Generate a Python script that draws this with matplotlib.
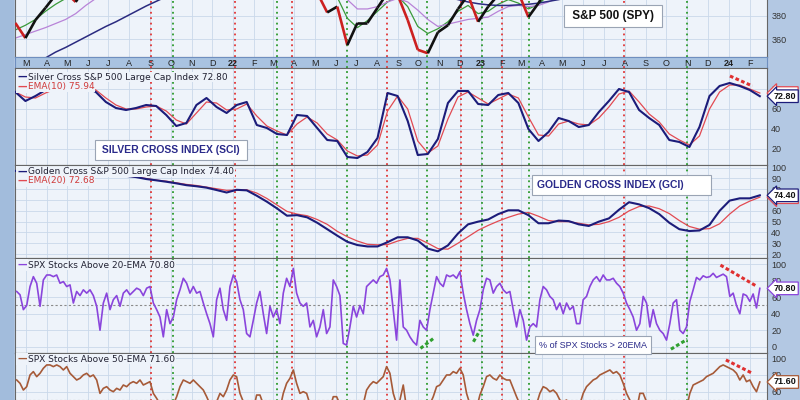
import numpy as np
import pandas as pd
import matplotlib
matplotlib.use("Agg")
import matplotlib.pyplot as plt
import matplotlib.dates as mdates
from matplotlib.collections import LineCollection
from matplotlib.patches import Rectangle

W, H = 800, 400

# ---- values ----
dates_d = pd.date_range("2021-02-14", "2024-02-16", periods=75)    # ~2 week steps
dates_w = pd.date_range("2021-02-16", "2024-02-16", periods=224)   # ~5 day steps

spy_close = [374, 361, 376.5, 387, 398, 400, 392, 405, 410, 415, 422, 428, 430, 435, 432,
             425, 428, 445, 455, 450, 455, 460, 460, 440, 425, 420, 410, 435, 440, 420,
             400, 383, 388, 355, 374, 374, 387, 400, 398, 376.5, 351, 348, 366, 372, 386,
             398, 375, 388, 398, 405, 400, 379, 391, 405, 410, 420, 430, 435, 440, 448,
             455, 445, 440, 430, 425, 415, 410, 430, 445, 455, 470, 470, 480, 490, 500]
spy_ema20 = [368, 372, 377, 384, 390, 395, 398, 402, 407, 412, 418, 424, 428, 432, 432,
             428, 430, 440, 450, 452, 455, 458, 458, 448, 432, 422, 415, 428, 435, 425,
             405, 396, 396, 378, 370, 376, 384, 392, 397, 388, 371, 365, 369, 375, 384,
             389, 382, 384, 390, 394, 391, 386, 390, 398, 405, 413, 422, 430, 436, 443,
             450, 447, 442, 435, 428, 418, 413, 423, 438, 450, 462, 467, 475, 484, 493]
spy_ema50 = [361, 364, 367, 370, 373.5, 377, 382, 389, 395, 399, 403, 407, 412, 416, 420,
             423, 425, 428, 433, 438, 442, 446, 450, 450, 445, 440, 433, 431, 432, 428,
             420, 410, 402, 394, 386, 386, 388, 392, 395, 392, 385, 377, 371, 373, 375,
             377, 378, 379, 384, 388, 389, 388, 389, 392, 396, 401, 408, 415, 422, 430,
             437, 440, 440, 437, 432, 426, 420, 420, 427, 437, 448, 456, 463, 471, 479]
spy_sma200 = [330, 334, 339, 344, 349, 353, 357.5, 362, 366.5, 371, 375, 379.5, 384, 388.5, 392.5,
              396.5, 400.5, 405, 409, 413, 417, 421, 424, 427, 429, 430, 431, 432, 433, 433,
              432, 430, 428, 425, 422, 420, 418, 416, 414, 411, 408, 405, 402, 396, 394,
              392, 390.5, 389.5, 389, 389, 389.5, 390, 391, 392.5, 394, 396, 399, 401, 403, 406,
              409, 412, 415, 418, 420, 421, 422, 424, 426, 429, 433, 437, 441, 446, 450]

sci = [77, 68, 73, 79, 81, 82, 83, 82, 77, 67, 61, 59, 61, 64, 63,
       54, 43, 46, 64, 71, 62, 56, 64, 67, 44, 41, 35, 34, 54, 53,
       41, 29, 28, 12, 11, 17, 31, 76, 73, 48, 14, 15, 30, 66, 78,
       78, 65, 64, 74, 76, 66, 40, 28, 37, 51, 48, 42, 44, 57, 68,
       80, 77, 59, 51, 44, 29, 27, 22, 42, 73, 83, 86, 83, 79, 72.80]
sci_ema10 = [77, 72, 71, 76, 80, 82, 82, 82, 79, 71, 64, 60, 60, 62, 63,
             58, 49, 45, 56, 67, 66, 59, 60, 65, 53, 43, 38, 34, 45, 52,
             46, 35, 29, 18, 13, 14, 24, 58, 73, 60, 28, 16, 23, 50, 72,
             77, 71, 65, 70, 75, 71, 52, 34, 33, 45, 48, 45, 44, 51, 62,
             75, 78, 67, 55, 47, 35, 29, 24, 33, 60, 77, 84, 84, 80, 75.94]

gci = [97, 97, 97.5, 97, 96.5, 96, 95.5, 95, 94, 93.5, 93, 92.5, 91.3, 89.5, 88.3,
       87, 85.5, 83.8, 82.8, 81.5, 79.3, 77, 79.5, 79, 74, 68.5, 62.3, 55.5, 56, 54,
       49, 43, 37, 31.3, 28.3, 27, 27, 31, 35.5, 35.5, 32.5, 25, 22.5, 28, 39,
       47.5, 50, 52, 57, 60.5, 60.5, 56, 48.5, 48.5, 51, 50.5, 47.5, 46, 50, 53,
       61, 68, 66, 62.5, 57, 49, 43, 41.3, 41.8, 47, 60, 69.5, 71.6, 71.6, 74.40]
gci_ema20 = [97, 97, 97, 97, 96.5, 96, 95.5, 95, 94.5, 94, 93.5, 92.5, 91.5, 90, 88.5,
             87.5, 86, 84.5, 83.5, 82, 80.5, 79, 79.3, 79.5, 76.5, 71.5, 65.5, 59.5, 57, 55.5,
             52, 47.5, 41, 36, 32, 29, 28.5, 28.7, 32, 34.5, 34.5, 30, 25, 24.5, 30,
             36, 42, 46.5, 50.5, 54, 57, 58.5, 55, 51, 50, 50, 48.5, 47, 47.5, 50,
             54, 60, 64, 64.5, 62, 57.5, 51, 45.5, 43, 43.5, 48, 57, 64.5, 69, 72.68]

pct_20ema = [67, 63, 45, 50, 73, 85, 77, 49, 81, 87, 87, 85, 87, 77, 79, 73, 75, 53, 67, 62,
             69, 65, 69, 62, 49, 20, 53, 65, 45, 57, 62, 49, 65, 69, 63, 67, 71, 69, 62, 71,
             73, 53, 45, 36, 12, 45, 28, 36, 57, 69, 83, 77, 65, 73, 65, 67, 53, 40, 28, 12,
             57, 71, 45, 32, 73, 87, 79, 57, 45, 16, 12, 32, 53, 67, 40, 16, 49, 36, 45, 28,
             65, 83, 73, 95, 65, 53, 49, 53, 24, 32, 12, 24, 45, 16, 24, 81, 73, 62, 4, 2,
             24, 49, 36, 50, 40, 73, 77, 81, 77, 85, 87, 95, 81, 45, 8,
             81, 24, 20, 12, 6, 2, 32, 24, 20, 45, 65, 85, 77, 73, 87, 85, 87, 83, 91, 65,
             45, 28, 14, 32, 45, 69, 83, 81, 65, 73, 77, 69, 65, 67, 45, 24, 45, 32, 8, 24,
             28, 24, 57, 73, 69, 61, 57, 45, 53, 40, 53, 45, 49, 28, 28, 57, 61, 73, 81, 85,
             79, 87, 81, 81, 83, 77, 73, 65, 53, 45, 36, 20, 28, 61, 53, 24, 45, 28, 20, 16,
             8, 28, 53, 57, 20, 16, 24, 55, 69, 84, 81, 86, 84, 85, 89, 84, 86, 88, 85, 61,
             65, 50, 40, 64, 62, 55, 64, 47, 70.80]
pct_50ema = [74, 70, 62, 66, 80, 84, 78, 82, 88, 92, 92, 90, 92, 90, 86, 90, 82, 78, 74, 76,
             80, 82, 78, 80, 74, 58, 64, 66, 62, 60, 64, 62, 68, 66, 70, 72, 70, 74, 68, 70,
             72, 58, 52, 45, 35, 40, 35, 45, 54, 66, 74, 72, 70, 74, 70, 66, 62, 54, 45, 35,
             48, 58, 54, 62, 74, 80, 78, 58, 48, 40, 35, 38, 56, 56, 45, 40, 48, 42, 45, 40,
             58, 70, 76, 86, 70, 58, 60, 58, 45, 40, 35, 38, 45, 38, 40, 54, 54, 45, 30, 25,
             30, 40, 38, 42, 45, 62, 68, 72, 70, 74, 78, 90, 82, 58, 45,
             50, 68, 40, 30, 25, 20, 30, 35, 40, 45, 54, 66, 68, 74, 80, 80, 84, 82, 88, 80,
             58, 45, 35, 40, 56, 66, 78, 80, 76, 74, 80, 76, 74, 74, 64, 54, 45, 40, 30, 35,
             40, 45, 58, 66, 64, 60, 62, 58, 50, 48, 50, 45, 40, 38, 45, 58, 66, 70, 74, 76,
             80, 82, 84, 86, 82, 84, 80, 70, 58, 50, 42, 38, 58, 58, 48, 35, 33, 35, 33, 35,
             35, 38, 40, 38, 35, 33, 40, 58, 68, 70, 72, 74, 78, 80, 82, 86, 90, 92, 90, 88,
             86, 82, 74, 80, 72, 74, 66, 60, 71.60]

red_events = ["2021-09-02", "2022-01-03", "2022-03-28", "2022-08-16",
              "2022-12-02", "2023-02-01", "2023-07-31"]
green_events = ["2021-10-04", "2022-03-07", "2022-06-17", "2022-10-13",
                "2023-01-03", "2023-03-13", "2023-11-01"]

# hand-drawn trend marks: (dates, values)
sci_red_trend = (["2024-01-03", "2024-02-05"], [93, 83])
p20_red_trend = (["2023-12-20", "2024-02-10"], [99, 74])
p50_red_trend = (["2023-12-28", "2024-02-05"], [98, 82])
p20_green_trends = [(["2022-10-04", "2022-10-23"], [-2, 10]),
                    (["2022-12-21", "2022-12-31"], [6, 20.5]),
                    (["2023-10-08", "2023-11-01"], [-3, 9])]

# ---- style ----
PLOT_BG = "#eef3fa"
GRID = "#cad8ea"
RIGHT_BG = "#b3c8e3"
LEFT_BG = "#a2bcdc"
STRIP_BG = "#a9c3e1"
NAVY = "#1c1c7a"
EMA_RED = "#e24a52"
VIOLET = "#8a45dc"
BROWN = "#a65a38"

plt.rcParams["font.family"] = ["Liberation Sans", "DejaVu Sans"]

XMIN = mdates.date2num(pd.Timestamp("2021-02-13 12:00"))
XMAX = mdates.date2num(pd.Timestamp("2024-02-26 14:00"))
xd = mdates.date2num(dates_d.to_pydatetime())
xw = mdates.date2num(dates_w.to_pydatetime())
months = pd.date_range("2021-03-01", "2024-02-01", freq="MS")
month_x = mdates.date2num(months.to_pydatetime())
month_lbl = [str(d.year)[2:] if d.month == 1 else d.strftime("%b")[0] for d in months]

fig = plt.figure(figsize=(W / 100, H / 100), dpi=100, facecolor=RIGHT_BG)
fig.add_artist(Rectangle((0, 0), 14 / W, 1, transform=fig.transFigure,
                         fc=LEFT_BG, ec="none"))


def panel(top, bottom, ylo, yhi, yticks, ygrid=None):
    ax = fig.add_axes([15 / W, 1 - bottom / H, 752 / W, (bottom - top) / H])
    ax.set_facecolor(PLOT_BG)
    # ticks first: set_*ticks may widen the view limits
    ax.set_xticks(month_x)
    ax.set_yticks(yticks)
    ax.set_xlim(XMIN, XMAX)
    ax.set_ylim(ylo, yhi)
    ax.tick_params(axis="x", length=0, labelbottom=False)
    ax.yaxis.tick_right()
    ax.tick_params(axis="y", length=0, pad=3, labelsize=6.5, labelcolor="#333333")
    ax.grid(True, color=GRID, lw=0.6)
    ax.set_axisbelow(True)
    for s in ax.spines.values():
        s.set_color("#666666")
        s.set_linewidth(0.8)
    return ax


def events(ax):
    for d in red_events:
        ax.axvline(mdates.date2num(pd.Timestamp(d)), color="#e03535",
                   ls=(0, (1, 2)), lw=1.3, zorder=1.5)
    for d in green_events:
        ax.axvline(mdates.date2num(pd.Timestamp(d)), color="#2c9a2c",
                   ls=(0, (1, 2)), lw=1.3, zorder=1.5)


def legend_row(ax, dy, text, color, txtcolor):
    ax.annotate("\u2014", xy=(0, 1), xycoords="axes fraction", xytext=(2, -dy),
                textcoords="offset pixels", ha="left", va="center", color=color,
                fontsize=7, fontweight="bold", family="DejaVu Sans", zorder=6,
                bbox=dict(fc=PLOT_BG, ec="none", pad=0.6))
    ax.annotate(text, xy=(0, 1), xycoords="axes fraction", xytext=(13, -dy),
                textcoords="offset pixels", ha="left", va="center", color=txtcolor,
                fontsize=6.5, family="DejaVu Sans", zorder=6,
                bbox=dict(fc=PLOT_BG, ec="none", pad=0.6))


def tag(ax, val, ec):
    ax.annotate(f"{val:.2f}", xy=(1, val), xycoords=("axes fraction", "data"),
                xytext=(5, 0), textcoords="offset points", ha="left", va="center",
                fontsize=6.5, fontweight="bold", color="#111111",
                bbox=dict(boxstyle="larrow,pad=0.2", fc="white", ec=ec, lw=0.9),
                annotation_clip=False, zorder=7)


def trend(ax, pts, color):
    ax.plot(mdates.date2num(pd.to_datetime(pts[0]).to_pydatetime()), pts[1],
            color=color, ls=(0, (1.2, 0.8)), lw=2.2, zorder=4)


def box_label(x, y, text, size, weight, color, ha="center"):
    fig.text(x / W, 1 - y / H, text, ha=ha, va="center", fontsize=size,
             fontweight=weight, color=color, zorder=8,
             bbox=dict(boxstyle="square,pad=0.45", fc="white", ec="#9aa4b4", lw=0.8))


# ---- panel 1: S&P 500 price (upper part lies above the picture) ----
ax1 = panel(-100, 57, 344.8, 479.4, [360, 380])
pts = np.column_stack([xd, spy_close])
segs = np.stack([pts[:-1], pts[1:]], axis=1)
up = np.diff(spy_close) >= 0
ax1.add_collection(LineCollection(segs, colors=np.where(up, "#111111", "#cc2020"),
                                  linewidths=1.9, zorder=3), autolim=False)
ax1.plot(xd, spy_ema20, color="#3a9a3a", lw=0.9, zorder=2.5)
ax1.plot(xd, spy_ema50, color="#b883d8", lw=0.9, zorder=2.5)
ax1.plot(xd, spy_sma200, color="#2b2b80", lw=1.1, zorder=2.5)
ax1.set_ylim(344.8, 479.4)
events(ax1)
box_label(613, 16, " S&P 500 (SPY) ", 8.5, "bold", "#111111")

# ---- month strip ----
strip = fig.add_axes([15 / W, 1 - 68 / H, 752 / W, 11 / H])
strip.set_facecolor(STRIP_BG)
strip.set_xlim(XMIN, XMAX)
strip.set_ylim(0, 1)
strip.set_xticks([])
strip.set_yticks([])
for s in strip.spines.values():
    s.set_color("#6f8fbf")
    s.set_linewidth(0.8)
for mx, lab in zip(month_x, month_lbl):
    strip.text(mx, 0.45, lab, ha="center", va="center", fontsize=6.5,
               fontweight="bold" if lab.isdigit() else "normal", color="#222222")
events(strip)

# ---- panel 2: Silver Cross Index ----
ax2 = panel(68, 165, 4, 101, [20, 40, 60, 80])
ax2.plot(xd, sci_ema10, color=EMA_RED, lw=0.9, zorder=3)
ax2.plot(xd, sci, color=NAVY, lw=1.5, zorder=3.2)
events(ax2)
trend(ax2, sci_red_trend, "#e03030")
legend_row(ax2, 9, f"Silver Cross S&P 500 Large Cap Index {sci[-1]:.2f}", NAVY, "#222233")
legend_row(ax2, 19, f"EMA(10) {sci_ema10[-1]:.2f}", EMA_RED, "#d03a3a")
tag(ax2, sci_ema10[-1], EMA_RED)
tag(ax2, sci[-1], NAVY)
box_label(171, 150, " SILVER CROSS INDEX (SCI) ", 7.5, "bold", "#2a2a8a")

# ---- panel 3: Golden Cross Index ----
ax3 = panel(165, 258, 16.3, 102.5, range(20, 101, 10))
ax3.plot(xd, gci_ema20, color=EMA_RED, lw=0.9, zorder=3)
ax3.plot(xd, gci, color=NAVY, lw=1.5, zorder=3.2)
events(ax3)
legend_row(ax3, 7, f"Golden Cross S&P 500 Large Cap Index {gci[-1]:.2f}", NAVY, "#222233")
legend_row(ax3, 16, f"EMA(20) {gci_ema20[-1]:.2f}", EMA_RED, "#d03a3a")
tag(ax3, gci_ema20[-1], EMA_RED)
tag(ax3, gci[-1], NAVY)
box_label(537, 185, "GOLDEN CROSS INDEX (GCI)        ", 7.5, "bold", "#2a2a8a", ha="left")

# ---- panel 4: % above 20-EMA ----
ax4 = panel(258, 353, -7.6, 107.6, range(0, 101, 20))
ax4.axhline(50, color="#8a8a8a", ls=(0, (2, 2)), lw=0.8, zorder=2)
ax4.plot(xw, pct_20ema, color=VIOLET, lw=1.2, zorder=3)
events(ax4)
trend(ax4, p20_red_trend, "#e03030")
for t in p20_green_trends:
    trend(ax4, t, "#30a030")
legend_row(ax4, 7, f"SPX Stocks Above 20-EMA {pct_20ema[-1]:.2f}", VIOLET, "#222233")
tag(ax4, pct_20ema[-1], VIOLET)
box_label(593, 345, "% of SPX Stocks > 20EMA", 6.5, "normal", "#2a2a8a")

# ---- panel 5: % above 50-EMA (lower part lies below the picture) ----
ax5 = panel(353, 448, -7.4, 106.3, [60, 80, 100])
ax5.axhline(50, color="#8a8a8a", ls=(0, (2, 2)), lw=0.8, zorder=2)
ax5.plot(xw, pct_50ema, color=BROWN, lw=1.2, zorder=3)
events(ax5)
trend(ax5, p50_red_trend, "#e03030")
legend_row(ax5, 6, f"SPX Stocks Above 50-EMA {pct_50ema[-1]:.2f}", BROWN, "#222233")
tag(ax5, pct_50ema[-1], BROWN)

fig.savefig("out.png", dpi=100, facecolor=fig.get_facecolor())
